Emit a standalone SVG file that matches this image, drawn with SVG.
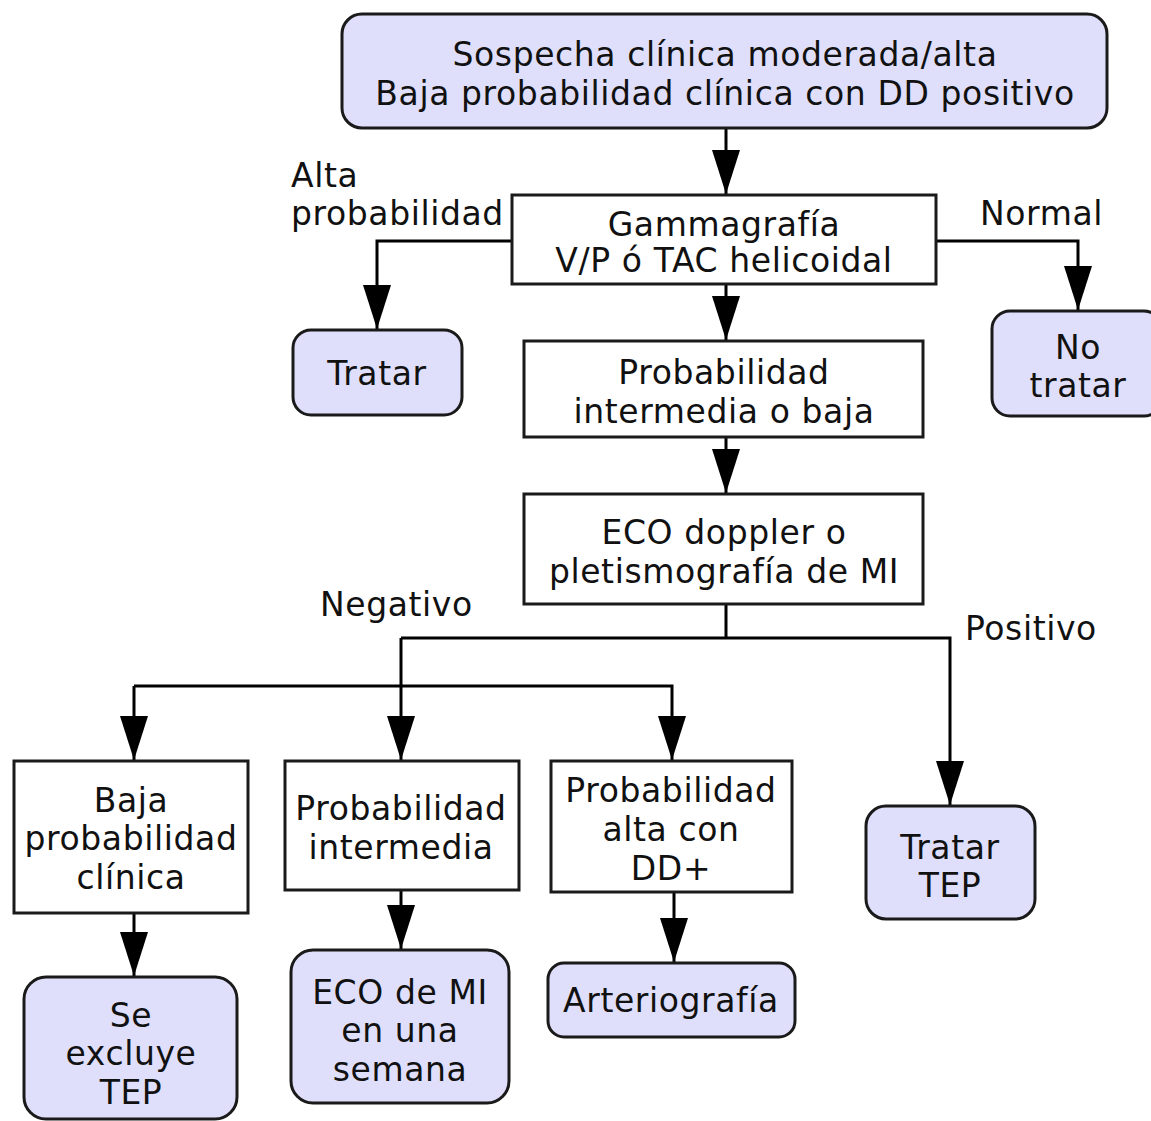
<svg xmlns="http://www.w3.org/2000/svg" width="1151" height="1121" viewBox="0 0 1151 1121">
<defs>
<marker id="arr" markerUnits="userSpaceOnUse" markerWidth="46" markerHeight="32" viewBox="0 -16 46 32" refX="44" refY="0" orient="auto">
<path d="M0,-14 L44,0 L0,14 Z" fill="#000"/>
</marker>
<style>
.box{fill:#fff;stroke:#1a1a1a;stroke-width:3}
.rbox{fill:#dfdffb;stroke:#1a1a1a;stroke-width:3}
text{font-family:"DejaVu Sans","Liberation Sans",sans-serif;font-size:33px;letter-spacing:0.6px;fill:#111}
.c{text-anchor:middle}
.edge{fill:none;stroke:#000;stroke-width:3}
.arr{marker-end:url(#arr)}
</style>
</defs>
<rect width="1151" height="1121" fill="#fff"/>
<g id="connectors">
<path class="edge arr" d="M726,128 V194"/>
<path class="edge arr" d="M512,241 H377 V329"/>
<path class="edge arr" d="M936,241 H1078 V310"/>
<path class="edge arr" d="M726,284 V340"/>
<path class="edge arr" d="M726,437 V493"/>
<path class="edge" d="M726,604 V638"/>
<path class="edge arr" d="M401,638 H950 V805"/>
<path class="edge arr" d="M401,638 V760"/>
<path class="edge arr" d="M134,686 H672 V760"/>
<path class="edge arr" d="M134,686 V760"/>
<path class="edge arr" d="M134,913 V976"/>
<path class="edge arr" d="M401,890 V949"/>
<path class="edge arr" d="M674,892 V962"/>
</g>
<g id="labels">
<text x="291" y="187">Alta</text>
<text x="291" y="225">probabilidad</text>
<text x="980" y="225">Normal</text>
<text x="320" y="616">Negativo</text>
<text x="965" y="640">Positivo</text>
</g>
<g id="n-sospecha">
<rect class="rbox" x="342" y="14" width="765" height="114" rx="20"/>
<text class="c" x="725" y="66">Sospecha clínica moderada/alta</text>
<text class="c" x="725" y="105">Baja probabilidad clínica con DD positivo</text>
</g>
<g id="n-gamma">
<rect class="box" x="512" y="195" width="424" height="89"/>
<text class="c" x="724" y="236">Gammagrafía</text>
<text class="c" x="724" y="272">V/P ó TAC helicoidal</text>
</g>
<g id="n-tratar">
<rect class="rbox" x="293" y="330" width="169" height="85" rx="18"/>
<text class="c" x="377" y="385">Tratar</text>
</g>
<g id="n-notratar">
<rect class="rbox" x="992" y="311" width="170" height="105" rx="18"/>
<text class="c" x="1078" y="359">No</text>
<text class="c" x="1078" y="397">tratar</text>
</g>
<g id="n-probib">
<rect class="box" x="524" y="341" width="399" height="96"/>
<text class="c" x="724" y="384">Probabilidad</text>
<text class="c" x="724" y="423">intermedia o baja</text>
</g>
<g id="n-eco">
<rect class="box" x="524" y="494" width="399" height="110"/>
<text class="c" x="724" y="544">ECO doppler o</text>
<text class="c" x="724" y="583">pletismografía de MI</text>
</g>
<g id="n-baja">
<rect class="box" x="14" y="761" width="234" height="152"/>
<text class="c" x="131" y="812">Baja</text>
<text class="c" x="131" y="850">probabilidad</text>
<text class="c" x="131" y="889">clínica</text>
</g>
<g id="n-intermedia">
<rect class="box" x="285" y="761" width="234" height="129"/>
<text class="c" x="401" y="820">Probabilidad</text>
<text class="c" x="401" y="859">intermedia</text>
</g>
<g id="n-alta">
<rect class="box" x="551" y="761" width="241" height="131"/>
<text class="c" x="671" y="802">Probabilidad</text>
<text class="c" x="671" y="841">alta con</text>
<text class="c" x="671" y="880">DD+</text>
</g>
<g id="n-tratartep">
<rect class="rbox" x="866" y="806" width="169" height="113" rx="20"/>
<text class="c" x="950" y="859">Tratar</text>
<text class="c" x="950" y="897">TEP</text>
</g>
<g id="n-excluye">
<rect class="rbox" x="24" y="977" width="213" height="142" rx="22"/>
<text class="c" x="131" y="1027">Se</text>
<text class="c" x="131" y="1065">excluye</text>
<text class="c" x="131" y="1104">TEP</text>
</g>
<g id="n-ecomi">
<rect class="rbox" x="291" y="950" width="218" height="153" rx="22"/>
<text class="c" x="400" y="1004">ECO de MI</text>
<text class="c" x="400" y="1042">en una</text>
<text class="c" x="400" y="1081">semana</text>
</g>
<g id="n-arterio">
<rect class="rbox" x="548" y="963" width="247" height="74" rx="16"/>
<text class="c" x="671" y="1012">Arteriografía</text>
</g>
</svg>
